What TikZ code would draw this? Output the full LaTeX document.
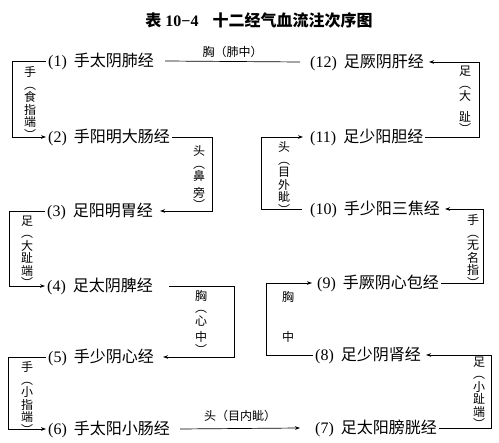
\documentclass[tikz,border=0pt]{standalone}
\usepackage{fontspec}
\setmainfont{Noto Sans CJK SC}
\newfontfamily\numf{Liberation Serif}
\usetikzlibrary{arrows.meta}
\tikzset{
  mer/.style={anchor=west,inner sep=2pt,font=\fontsize{16}{18}\selectfont},
  vlab/.style={align=center,inner sep=0pt,font=\fontsize{12}{12.5}\selectfont},
  hlab/.style={inner sep=1pt,font=\fontsize{12}{14}\selectfont},
  flow/.style={-{Stealth[length=5pt,width=3.6pt]},line width=0.7pt},
  link/.style={line width=0.7pt},
}

\begin{document}
\begin{tikzpicture}[x=1pt,y=-1pt]
  \useasboundingbox (0,0) rectangle (499,443);
  % title
  \node[font=\fontsize{16}{18}\selectfont\bfseries] (title) at (259,20)
    {表\hspace{4pt}{\numf 10−4}\hspace{14pt}十二经气血流注次序图};

  % left column
  \node[mer] (m1) at (46,61)  {{\numf(1)}\hspace{7pt}手太阴肺经};
  \node[mer] (m2) at (46,137) {{\numf(2)}\hspace{7pt}手阳明大肠经};
  \node[mer] (m3) at (45,211) {{\numf(3)}\hspace{7pt}足阳明胃经};
  \node[mer] (m4) at (45,286) {{\numf(4)}\hspace{7pt}足太阴脾经};
  \node[mer] (m5) at (46,357) {{\numf(5)}\hspace{7pt}手少阴心经};
  \node[mer] (m6) at (46,429) {{\numf(6)}\hspace{7pt}手太阳小肠经};
  % right column
  \node[mer] (m12) at (308,62)  {{\numf(12)}\hspace{7pt}足厥阴肝经};
  \node[mer] (m11) at (308,137) {{\numf(11)}\hspace{7pt}足少阳胆经};
  \node[mer] (m10) at (308,209) {{\numf(10)}\hspace{7pt}手少阳三焦经};
  \node[mer] (m9)  at (315,283) {{\numf(9)}\hspace{7pt}手厥阴心包经};
  \node[mer] (m8)  at (313,355) {{\numf(8)}\hspace{7pt}足少阴肾经};
  \node[mer] (m7)  at (313,428) {{\numf(7)}\hspace{7pt}足太阳膀胱经};

  % bracket columns
  \coordinate (k23) at (212,0);
  \coordinate (k45) at (220,0);
  \coordinate (k78) at (491,0);
  \coordinate (k89) at (266,0);
  \coordinate (k910) at (483,0);
  \coordinate (k1011) at (267,0);
  \coordinate (k1112) at (479,0);

  % connectors
  \draw[link] ([xshift=9pt]m1.east) -- ([xshift=-8pt]m12.west)
    node[hlab,midway,above=2pt] (l1) {胸（肺中）};
  \draw[flow] (m1.west) -- ++(-34,0) |- (m2.west);
  \draw[flow,shorten >=5pt] (m2.east) -- (m2.east -| k23) |- (m3.east);
  \draw[flow] (m3.west) -- ++(-36,0) |- (m4.west);
  \draw[flow,shorten >=7pt] ([xshift=14pt]m4.east) -- ([xshift=14pt]m4.east -| k45)
    |- (m5.east);
  \draw[flow] (m5.west) -- ++(-38,0) |- (m6.west);
  \draw[flow] ([xshift=8pt]m6.east) -- ([xshift=-13pt]m7.west)
    node[hlab,midway,above=5pt] (l67) {头（目内眦）};
  \draw[flow,shorten >=3pt] (m7.east) -- (m7.east -| k78) |- (m8.east);
  \draw[flow,shorten >=3pt] (m8.west) -- (m8.west -| k89) |- (m9.west);
  \draw[flow,shorten >=3pt] (m9.east) -- (m9.east -| k910) |- (m10.east);
  \draw[flow,shorten >=5pt] ([xshift=-6pt]m10.west) -- ([xshift=-6pt]m10.west -| k1011)
    |- (m11.west);
  \draw[flow,shorten >=3pt] (m11.east) -- (m11.east -| k1112) |- (m12.east);

  % vertical labels
  \node[vlab] (v12) at (30,103) {手\\︵\\食\\指\\端\\︶};
  \node[vlab] (v23) at (199,178) {头\\︵\\鼻\\[4pt]旁\\︶};
  \node[vlab] (v34) at (27,252) {足\\︵\\大\\趾\\端\\︶};
  \node[vlab] (v45) at (201,322) {胸\\︵\\心\\[4pt]中\\︶};
  \node[vlab] (v56) at (27,398) {手\\︵\\小\\指\\端\\︶};
  \node[vlab] (v78) at (479,393) {足\\︵\\小\\趾\\端\\︶};
  \node[vlab] (v89) at (288,317) {胸\\[28pt]中};
  \node[vlab] (v910) at (473,251) {手\\︵\\无\\名\\指\\︶};
  \node[vlab] (v1011) at (284,178) {头\\︵\\目\\外\\眦\\︶};
  \node[vlab] (v1112) at (465,100) {足\\︵\\大\\[8pt]趾\\︶};
\end{tikzpicture}
\end{document}
